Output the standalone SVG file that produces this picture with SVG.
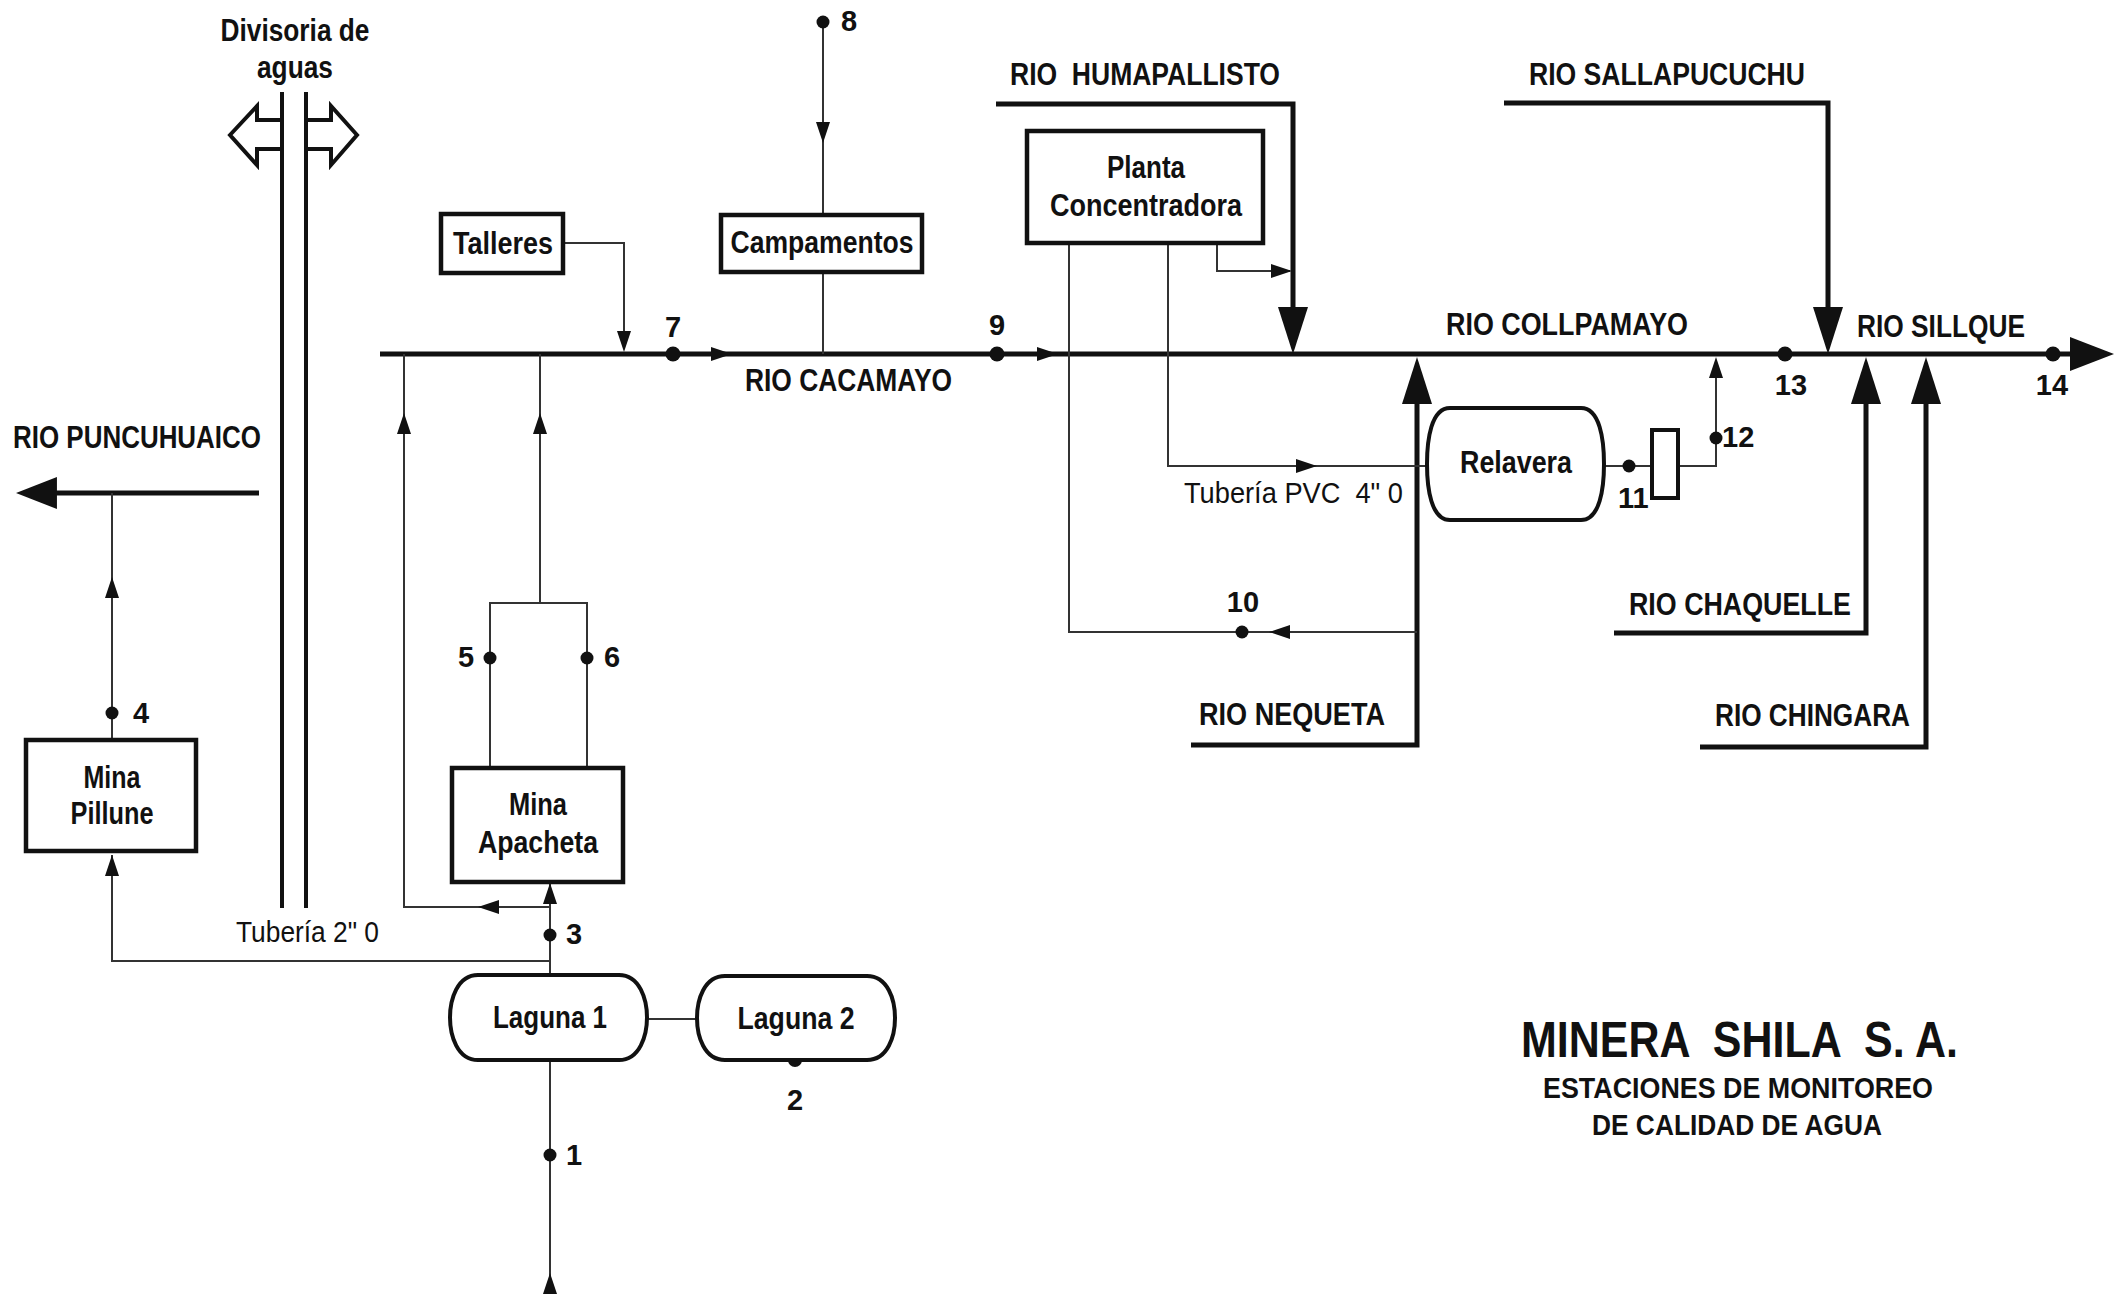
<svg xmlns="http://www.w3.org/2000/svg" xmlns:xlink="http://www.w3.org/1999/xlink" width="2125" height="1294" viewBox="0 0 2125 1294">
<style>
.bg{fill:#fff}
.thick{fill:none;stroke:#111;stroke-width:5;stroke-linejoin:miter}
.thin{fill:none;stroke:#333;stroke-width:2}
.div{fill:none;stroke:#111;stroke-width:4}
.box{fill:#fff;stroke:#111;stroke-width:4.5}
.lag{fill:#fff;stroke:#111;stroke-width:4}
.ah{fill:#111}
.dot{fill:#111}
.hol{fill:#fff;stroke:#111;stroke-width:4;stroke-linejoin:miter}
text{font-family:"Liberation Sans",Arial,sans-serif;fill:#111}
.pre{white-space:pre}
.b{font-weight:bold;font-size:31px}
.n{font-weight:bold;font-size:29px}
.r{font-weight:normal;font-size:30px}
.t1{font-weight:bold;font-size:50px}
.t2{font-weight:bold;font-size:29px}
.m{text-anchor:middle}
</style>
<defs>
<path id="sa" d="M0,0 L-21,-7 L-21,7 Z"/>
<path id="ba" d="M0,0 L-47,-15 L-47,15 Z"/>
<path id="fa" d="M0,0 L-44,-17 L-44,17 Z"/>
</defs>
<rect class="bg" x="0" y="0" width="2125" height="1294"/>

<g id="connectors">
  <path class="thick" d="M380,354 H2075"/>
  <use href="#fa" class="ah" transform="translate(2114,354)"/>
  <path class="thick" d="M259,493 H50"/>
  <use href="#fa" class="ah" transform="translate(16,493) rotate(180) scale(0.93,0.94)"/>
  <path class="thick" d="M996,104 H1293 V315"/>
  <use href="#ba" class="ah" transform="translate(1293,354) rotate(90)"/>
  <path class="thick" d="M1504,103 H1828 V315"/>
  <use href="#ba" class="ah" transform="translate(1828,354) rotate(90)"/>
  <path class="thick" d="M1191,745 H1417 V395"/>
  <use href="#ba" class="ah" transform="translate(1417,357) rotate(-90)"/>
  <path class="thick" d="M1614,633 H1866 V395"/>
  <use href="#ba" class="ah" transform="translate(1866,357) rotate(-90)"/>
  <path class="thick" d="M1700,747 H1926 V395"/>
  <use href="#ba" class="ah" transform="translate(1926,357) rotate(-90)"/>
  <use href="#sa" class="ah" transform="translate(732,354)"/>
  <use href="#sa" class="ah" transform="translate(1058,354)"/>
  <path class="div" d="M282,92 V908 M306,92 V908"/>
  <path class="thin" d="M563,243 H624 V340"/>
  <use href="#sa" class="ah" transform="translate(624,352) rotate(90)"/>
  <path class="thin" d="M823,22 V215"/>
  <use href="#sa" class="ah" transform="translate(823,143) rotate(90)"/>
  <path class="thin" d="M823,272 V354"/>
  <path class="thin" d="M490,768 V603 H587 V768 M540,603 V354"/>
  <use href="#sa" class="ah" transform="translate(540,413) rotate(-90)"/>
  <path class="thin" d="M404,354 V907 H550"/>
  <use href="#sa" class="ah" transform="translate(404,413) rotate(-90)"/>
  <use href="#sa" class="ah" transform="translate(478,907) rotate(180)"/>
  <path class="thin" d="M550,976 V882"/>
  <use href="#sa" class="ah" transform="translate(550,883) rotate(-90)"/>
  <path class="thin" d="M550,961 H112 V855"/>
  <use href="#sa" class="ah" transform="translate(112,855) rotate(-90)"/>
  <path class="thin" d="M112,740 V493"/>
  <use href="#sa" class="ah" transform="translate(112,577) rotate(-90)"/>
  <path class="thin" d="M647,1019 H697"/>
  <path class="thin" d="M550,1294 V1060"/>
  <use href="#sa" class="ah" transform="translate(550,1273) rotate(-90)"/>
  <path class="thin" d="M1217,243 V271 H1290"/>
  <use href="#sa" class="ah" transform="translate(1292,271)"/>
  <path class="thin" d="M1168,243 V466 H1427"/>
  <use href="#sa" class="ah" transform="translate(1317,466)"/>
  <path class="thin" d="M1417,632 H1069 V243"/>
  <use href="#sa" class="ah" transform="translate(1269,632) rotate(180)"/>
  <path class="thin" d="M1604,466 H1652"/>
  <path class="thin" d="M1678,466 H1716 V360"/>
  <use href="#sa" class="ah" transform="translate(1716,357) rotate(-90)"/>
  <polygon class="hol" points="230,135 257,106 257,120 282,120 282,149 257,149 257,165"/>
  <polygon class="hol" points="357,135 331,106 331,120 306,120 306,149 331,149 331,165"/>
</g>

<g id="points">
  <circle class="dot" cx="550" cy="1155" r="6.5"/>
  <circle class="dot" cx="795" cy="1060" r="7"/>
  <circle class="dot" cx="550" cy="935" r="6.5"/>
  <circle class="dot" cx="112" cy="713" r="6.5"/>
  <circle class="dot" cx="490" cy="658" r="6.5"/>
  <circle class="dot" cx="587" cy="658" r="6.5"/>
  <circle class="dot" cx="673" cy="354" r="7.5"/>
  <circle class="dot" cx="823" cy="22" r="6.5"/>
  <circle class="dot" cx="997" cy="354" r="7.5"/>
  <circle class="dot" cx="1242" cy="632" r="6.5"/>
  <circle class="dot" cx="1629" cy="466" r="6.5"/>
  <circle class="dot" cx="1716" cy="438" r="6.5"/>
  <circle class="dot" cx="1785" cy="354" r="7.5"/>
  <circle class="dot" cx="2053" cy="354" r="7.5"/>
</g>

<g id="node-talleres">
  <rect class="box" x="441" y="214" width="122" height="59"/>
  <text class="b m" x="503" y="254" textLength="100" lengthAdjust="spacingAndGlyphs">Talleres</text>
</g>
<g id="node-campamentos">
  <rect class="box" x="721" y="215" width="201" height="57"/>
  <text class="b m" x="822" y="253" textLength="183" lengthAdjust="spacingAndGlyphs">Campamentos</text>
</g>
<g id="node-planta">
  <rect class="box" x="1027" y="131" width="236" height="112"/>
  <text class="b m" x="1146" y="178" textLength="78" lengthAdjust="spacingAndGlyphs">Planta</text>
  <text class="b m" x="1146" y="216" textLength="192" lengthAdjust="spacingAndGlyphs">Concentradora</text>
</g>
<g id="node-pillune">
  <rect class="box" x="26" y="740" width="170" height="111"/>
  <text class="b m" x="112" y="788" textLength="57" lengthAdjust="spacingAndGlyphs">Mina</text>
  <text class="b m" x="112" y="824" textLength="83" lengthAdjust="spacingAndGlyphs">Pillune</text>
</g>
<g id="node-apacheta">
  <rect class="box" x="452" y="768" width="171" height="114"/>
  <text class="b m" x="538" y="815" textLength="58" lengthAdjust="spacingAndGlyphs">Mina</text>
  <text class="b m" x="538" y="853" textLength="120" lengthAdjust="spacingAndGlyphs">Apacheta</text>
</g>
<g id="node-laguna1">
  <path class="lag" d="M478,975 H619 C640,975 647,1000 647,1017.5 C647,1035 640,1060 619,1060 H478 C457,1060 450,1035 450,1017.5 C450,1000 457,975 478,975 Z"/>
  <text class="b m" x="550" y="1028" textLength="114" lengthAdjust="spacingAndGlyphs">Laguna 1</text>
</g>
<g id="node-laguna2">
  <path class="lag" d="M725,976 H867 C888,976 895,1000 895,1018 C895,1036 888,1060 867,1060 H725 C704,1060 697,1036 697,1018 C697,1000 704,976 725,976 Z"/>
  <text class="b m" x="796" y="1029" textLength="117" lengthAdjust="spacingAndGlyphs">Laguna 2</text>
</g>
<g id="node-relavera">
  <path class="lag" d="M1450,408 H1581 C1600,408 1604,440 1604,464 C1604,488 1600,520 1581,520 H1450 C1431,520 1427,488 1427,464 C1427,440 1431,408 1450,408 Z"/>
  <text class="b m" x="1516" y="473" textLength="112" lengthAdjust="spacingAndGlyphs">Relavera</text>
</g>
<g id="node-poza">
  <rect class="lag" x="1652" y="430" width="26" height="68"/>
</g>

<g id="labels">
  <text class="b m" x="295" y="41" textLength="149" lengthAdjust="spacingAndGlyphs">Divisoria de</text>
  <text class="b m" x="295" y="78" textLength="76" lengthAdjust="spacingAndGlyphs">aguas</text>
  <text class="b" x="13" y="448" textLength="248" lengthAdjust="spacingAndGlyphs">RIO PUNCUHUAICO</text>
  <text class="b pre" xml:space="preserve" x="1010" y="85" textLength="270" lengthAdjust="spacingAndGlyphs">RIO  HUMAPALLISTO</text>
  <text class="b" x="1529" y="85" textLength="276" lengthAdjust="spacingAndGlyphs">RIO SALLAPUCUCHU</text>
  <text class="b" x="745" y="391" textLength="207" lengthAdjust="spacingAndGlyphs">RIO CACAMAYO</text>
  <text class="b" x="1446" y="335" textLength="242" lengthAdjust="spacingAndGlyphs">RIO COLLPAMAYO</text>
  <text class="b" x="1857" y="337" textLength="168" lengthAdjust="spacingAndGlyphs">RIO SILLQUE</text>
  <text class="b" x="1199" y="725" textLength="186" lengthAdjust="spacingAndGlyphs">RIO NEQUETA</text>
  <text class="b" x="1629" y="615" textLength="222" lengthAdjust="spacingAndGlyphs">RIO CHAQUELLE</text>
  <text class="b" x="1715" y="726" textLength="195" lengthAdjust="spacingAndGlyphs">RIO CHINGARA</text>
  <text class="r" x="236" y="942" textLength="143" lengthAdjust="spacingAndGlyphs">Tubería 2" 0</text>
  <text class="r pre" xml:space="preserve" x="1184" y="503" textLength="219" lengthAdjust="spacingAndGlyphs">Tubería PVC  4" 0</text>
  <text class="n" x="566" y="1165">1</text>
  <text class="n m" x="795" y="1110">2</text>
  <text class="n" x="566" y="944">3</text>
  <text class="n" x="133" y="723">4</text>
  <text class="n m" x="466" y="667">5</text>
  <text class="n m" x="612" y="667">6</text>
  <text class="n m" x="673" y="337">7</text>
  <text class="n" x="841" y="31">8</text>
  <text class="n m" x="997" y="335">9</text>
  <text class="n m" x="1243" y="612">10</text>
  <text class="n" x="1618" y="508">11</text>
  <text class="n" x="1722" y="447">12</text>
  <text class="n m" x="1791" y="395">13</text>
  <text class="n m" x="2052" y="395">14</text>
  <text class="t1 pre" xml:space="preserve" x="1521" y="1057" textLength="437" lengthAdjust="spacingAndGlyphs">MINERA  SHILA  S. A.</text>
  <text class="t2" x="1543" y="1098" textLength="390" lengthAdjust="spacingAndGlyphs">ESTACIONES DE MONITOREO</text>
  <text class="t2" x="1592" y="1135" textLength="290" lengthAdjust="spacingAndGlyphs">DE CALIDAD DE AGUA</text>
</g>
</svg>
